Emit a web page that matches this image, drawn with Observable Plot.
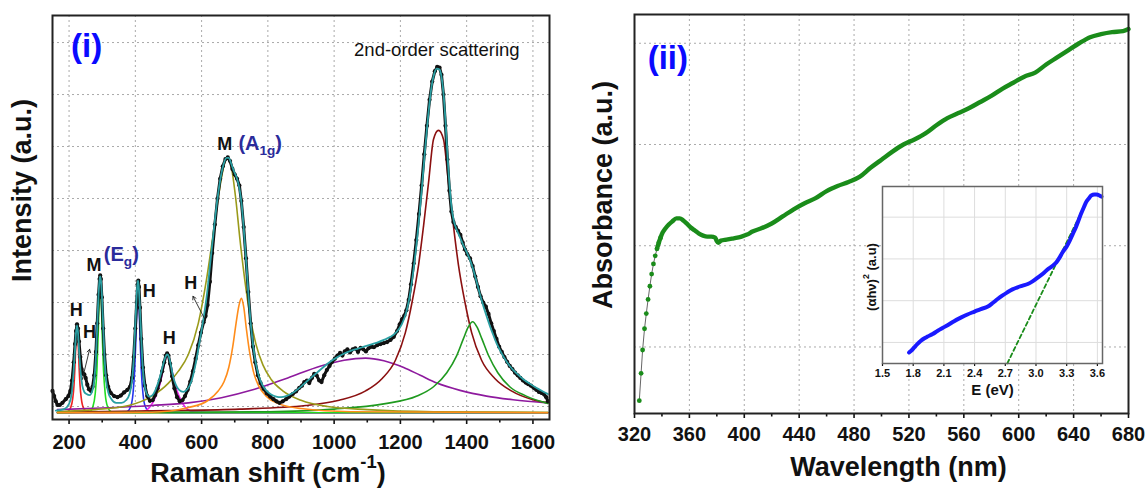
<!DOCTYPE html>
<html><head><meta charset="utf-8">
<script src="https://cdn.jsdelivr.net/npm/d3@7"></script>
<script src="https://cdn.jsdelivr.net/npm/@observablehq/plot@0.6"></script>
<style>
html,body{margin:0;padding:0;background:#fff;}
#wrap{position:relative;width:1146px;height:489px;overflow:hidden;}
#wrap svg{max-width:none;display:block;}
.pane{position:absolute;top:0;}
</style></head><body>
<div id="wrap">
  <div id="left" class="pane" style="left:0;width:575px;height:489px"></div>
  <div id="right" class="pane" style="left:575px;width:571px;height:489px"></div>
  <div id="inset" class="pane" style="left:840px;top:180px;width:270px;height:230px"></div>
</div>
<script>
const FONT = "'Liberation Sans', Arial, sans-serif";

// ---------- Panel (i): Raman ----------
const ramanTicks = [200, 400, 600, 800, 1000, 1200, 1400, 1600];
const ramanMinor = [300, 500, 700, 900, 1100, 1300, 1500];
const ramanGridY = [0, 1, 2, 3, 4, 5, 6, 7];

// observed spectrum [Raman shift, intensity]
const ramanObs = [[150,0.3],[155,0.2],[160,0.1],[165,0.03],[172,0.03],[180,0.07],[190,0.14],[198,0.2],[204,0.3],[209,0.5],[214,0.85],[218,1.2],[221,1.45],[224,1.58],[227,1.5],[230,1.25],[234,0.95],[238,0.72],[242,0.63],[246,0.62],[250,0.55],[255,0.42],[260,0.33],[266,0.3],[271,0.38],[276,0.6],[281,1.05],[285,1.6],[289,2.15],[292,2.45],[294,2.52],[296,2.45],[299,2.1],[303,1.5],[307,1.0],[312,0.6],[318,0.38],[326,0.26],[336,0.2],[346,0.18],[356,0.21],[366,0.27],[376,0.32],[384,0.38],[390,0.55],[395,0.95],[400,1.5],[404,2.0],[407,2.35],[409,2.42],[411,2.3],[414,1.9],[418,1.3],[423,0.75],[429,0.4],[436,0.2],[444,0.11],[452,0.12],[460,0.22],[467,0.35],[474,0.5],[481,0.68],[487,0.85],[492,0.98],[496,1.02],[500,0.98],[505,0.82],[511,0.58],[518,0.35],[526,0.18],[534,0.1],[542,0.12],[550,0.2],[558,0.32],[566,0.48],[574,0.68],[582,0.92],[590,1.18],[598,1.42],[606,1.62],[612,1.74],[618,1.95],[625,2.4],[632,2.95],[640,3.5],[648,4.0],[656,4.38],[664,4.62],[672,4.76],[679,4.79],[686,4.72],[693,4.57],[700,4.46],[707,4.38],[714,4.25],[720,3.95],[727,3.45],[734,2.85],[741,2.2],[748,1.6],[755,1.15],[762,0.85],[770,0.6],[778,0.45],[787,0.34],[797,0.25],[807,0.19],[817,0.14],[826,0.1],[835,0.07],[845,0.1],[855,0.14],[865,0.19],[875,0.24],[885,0.29],[895,0.36],[903,0.4],[910,0.47],[918,0.5],[925,0.45],[933,0.55],[940,0.63],[947,0.6],[955,0.5],[962,0.47],[970,0.6],[978,0.7],[986,0.78],[994,0.86],[1002,0.92],[1010,0.98],[1018,1.03],[1025,0.98],[1032,1.06],[1040,1.1],[1048,1.04],[1056,1.1],[1064,1.12],[1072,1.05],[1080,1.13],[1088,1.1],[1096,1.06],[1104,1.12],[1112,1.15],[1120,1.14],[1130,1.18],[1140,1.2],[1150,1.22],[1160,1.24],[1170,1.28],[1180,1.34],[1190,1.45],[1198,1.58],[1205,1.68],[1212,1.75],[1218,1.85],[1225,2.05],[1232,2.35],[1240,2.75],[1248,3.2],[1256,3.7],[1264,4.25],[1272,4.85],[1280,5.4],[1288,5.9],[1296,6.25],[1304,6.45],[1311,6.53],[1318,6.52],[1324,6.38],[1330,6.0],[1336,5.4],[1342,4.75],[1348,4.15],[1354,3.75],[1360,3.55],[1367,3.45],[1374,3.38],[1381,3.3],[1388,3.15],[1395,3.02],[1402,2.93],[1410,2.85],[1418,2.7],[1426,2.5],[1434,2.3],[1442,2.12],[1450,2.0],[1458,1.92],[1466,1.78],[1474,1.6],[1482,1.45],[1490,1.3],[1498,1.15],[1506,1.05],[1514,0.95],[1522,0.86],[1530,0.78],[1538,0.72],[1546,0.65],[1554,0.6],[1562,0.55],[1570,0.5],[1578,0.46],[1586,0.43],[1594,0.4],[1602,0.36],[1610,0.32],[1618,0.28],[1626,0.26],[1634,0.23],[1640,0.18],[1645,0.1]];

// cumulative fit
const ramanFit = [[160,-0.08],[185,-0.05],[200,0.05],[208,0.25],[213,0.6],[218,1.1],[221,1.42],[224,1.56],[227,1.42],[230,1.1],[235,0.65],[240,0.4],[246,0.28],[253,0.24],[262,0.22],[270,0.3],[276,0.5],[281,0.95],[285,1.55],[289,2.15],[292,2.43],[294,2.5],[296,2.43],[299,2.15],[303,1.55],[307,0.95],[312,0.5],[318,0.28],[328,0.14],[342,0.07],[358,0.07],[372,0.12],[383,0.25],[390,0.5],[395,0.9],[399,1.45],[403,2.0],[406,2.33],[408,2.42],[410,2.33],[413,2.0],[417,1.45],[421,0.9],[426,0.5],[433,0.27],[442,0.19],[452,0.22],[461,0.32],[470,0.48],[479,0.68],[487,0.88],[493,0.98],[497,1.0],[501,0.96],[507,0.8],[514,0.58],[522,0.42],[532,0.32],[545,0.28],[558,0.34],[570,0.5],[582,0.82],[594,1.25],[606,1.7],[616,2.15],[626,2.75],[636,3.35],[646,3.9],[656,4.35],[666,4.65],[675,4.78],[682,4.78],[690,4.66],[698,4.52],[706,4.4],[714,4.2],[721,3.88],[728,3.35],[735,2.75],[742,2.1],[749,1.55],[756,1.15],[764,0.82],[773,0.58],[783,0.42],[795,0.31],[810,0.23],[825,0.19],[840,0.18],[855,0.2],[872,0.25],[890,0.33],[910,0.44],[930,0.55],[950,0.66],[970,0.77],[990,0.87],[1010,0.95],[1030,1.02],[1050,1.07],[1070,1.11],[1090,1.15],[1110,1.19],[1130,1.23],[1150,1.28],[1170,1.34],[1188,1.43],[1204,1.58],[1218,1.82],[1230,2.2],[1242,2.75],[1254,3.45],[1264,4.15],[1274,4.9],[1284,5.6],[1294,6.15],[1302,6.4],[1310,6.5],[1318,6.48],[1325,6.3],[1331,5.95],[1337,5.4],[1343,4.75],[1349,4.2],[1355,3.8],[1362,3.55],[1370,3.4],[1380,3.25],[1390,3.1],[1400,2.97],[1410,2.82],[1420,2.63],[1430,2.4],[1440,2.16],[1450,1.94],[1460,1.74],[1470,1.55],[1480,1.38],[1490,1.22],[1500,1.09],[1515,0.92],[1530,0.78],[1550,0.64],[1570,0.53],[1590,0.44],[1610,0.36],[1630,0.29],[1645,0.24]];

// fitted components
const compH224 = [[165,-0.12],[195,-0.1],[205,-0.02],[211,0.15],[215,0.42],[218,0.8],[221,1.3],[224,1.58],[227,1.3],[230,0.8],[233,0.42],[237,0.15],[243,-0.02],[255,-0.1],[300,-0.12],[1645,-0.12]];
const compEg294 = [[165,-0.12],[262,-0.1],[272,0.0],[279,0.25],[284,0.7],[288,1.4],[291,2.1],[294,2.5],[297,2.1],[300,1.4],[304,0.7],[309,0.25],[316,0.0],[328,-0.1],[400,-0.12],[1645,-0.12]];
const compH408 = [[165,-0.12],[374,-0.1],[386,0.0],[393,0.25],[398,0.7],[402,1.35],[405,2.0],[408,2.4],[411,2.0],[414,1.35],[418,0.7],[423,0.25],[430,0.0],[444,-0.1],[520,-0.12],[1645,-0.12]];
const compH497 = [[165,-0.12],[420,-0.1],[445,0.0],[462,0.2],[474,0.42],[483,0.68],[490,0.88],[497,1.0],[504,0.88],[511,0.68],[520,0.42],[532,0.2],[549,0.0],[574,-0.1],[700,-0.12],[1645,-0.12]];
const compA1g678 = [[165,-0.1],[280,-0.06],[380,0.02],[450,0.2],[500,0.45],[530,0.68],[560,1.0],[590,1.6],[615,2.45],[638,3.45],[656,4.25],[668,4.65],[678,4.8],[690,4.6],[703,4.0],[716,3.2],[730,2.45],[746,1.75],[764,1.2],[785,0.8],[810,0.52],[845,0.3],[900,0.12],[980,0.0],[1100,-0.06],[1300,-0.1],[1645,-0.11]];
const comp720 = [[165,-0.12],[450,-0.11],[560,-0.02],[620,0.12],[650,0.3],[668,0.48],[682,0.75],[694,1.15],[704,1.6],[713,1.95],[720,2.08],[727,1.92],[735,1.5],[744,1.08],[756,0.68],[772,0.4],[795,0.2],[830,0.06],[900,-0.04],[1050,-0.1],[1645,-0.12]];
const comp1095 = [[165,-0.06],[300,-0.03],[450,0.02],[560,0.07],[660,0.17],[760,0.33],[860,0.55],[960,0.78],[1030,0.89],[1095,0.93],[1150,0.88],[1210,0.75],[1260,0.6],[1310,0.45],[1380,0.31],[1460,0.2],[1540,0.13],[1645,0.07]];
const comp1315 = [[165,-0.11],[500,-0.08],[715,-0.05],[915,0.02],[1015,0.12],[1095,0.3],[1145,0.54],[1185,0.89],[1215,1.42],[1235,2.0],[1255,2.73],[1270,3.48],[1285,4.31],[1300,5.14],[1315,5.31],[1330,5.14],[1345,4.31],[1360,3.48],[1375,2.73],[1395,2.0],[1415,1.42],[1445,0.89],[1485,0.54],[1535,0.3],[1600,0.13],[1645,0.07]];
const comp1418 = [[165,-0.12],[800,-0.1],[1000,-0.05],[1150,0.05],[1250,0.2],[1300,0.38],[1340,0.65],[1370,0.98],[1390,1.3],[1405,1.53],[1418,1.63],[1431,1.53],[1446,1.3],[1466,0.98],[1494,0.65],[1530,0.38],[1580,0.2],[1645,0.06]];

const ramanPanelLabel = [{x: 253, y: 6.93, text: "(i)"}];
const ramanNote = [{x: 1310, y: 6.85, text: "2nd-order scattering"}];
const ramanBlackLabels = [
  {x: 221.6, y: 1.85, text: "H"},
  {x: 262, y: 1.42, text: "H"},
  {x: 442, y: 2.21, text: "H"},
  {x: 502, y: 1.31, text: "H"},
  {x: 567, y: 2.38, text: "H"},
  {x: 275, y: 2.71, text: "M"},
  {x: 670, y: 5.05, text: "M"}
];
const ramanModeLabels = [
  {x: 305, y: 2.93, text: "(E_{g})"},
  {x: 711, y: 5.05, text: "(A_{1g})"}
];
const ramanArrows = [
  {x1: 240, y1: 0.52, x2: 262, y2: 1.1},
  {x1: 612, y1: 1.65, x2: 574, y2: 2.12}
];

// ---------- Panel (ii): UV-vis ----------
const uvTicks = [320, 360, 400, 440, 480, 520, 560, 600, 640, 680];
const uvMinor = [340, 380, 420, 460, 500, 540, 580, 620, 660];
const uvGridX = [360, 400, 440, 480, 520, 560, 600, 640];
const uvGridY = [1, 2, 3, 4];
const absorbance = [[323.5,0.47],[324.8,0.74],[325.9,0.97],[327.3,1.18],[328.6,1.33],[329.9,1.47],[331.2,1.6],[332.5,1.72],[333.8,1.82],[335.1,1.9],[336.4,1.97],[337.7,2.03],[339,2.08],[340.5,2.13],[342.5,2.17],[345,2.21],[347.5,2.24],[350.5,2.27],[353,2.27],[355.5,2.25],[358,2.22],[361,2.18],[364,2.15],[367,2.12],[370,2.1],[373,2.09],[376,2.09],[378.8,2.08],[379.8,2.05],[381,2.03],[383,2.05],[387,2.06],[391,2.07],[395,2.08],[398,2.09],[402,2.11],[406,2.14],[412,2.17],[420,2.22],[428,2.29],[436,2.36],[444,2.42],[452,2.47],[460,2.54],[468,2.59],[476,2.63],[484,2.68],[492,2.77],[500,2.85],[508,2.93],[516,3.0],[524,3.05],[532,3.11],[540,3.19],[548,3.26],[556,3.31],[564,3.36],[572,3.42],[580,3.48],[588,3.55],[596,3.61],[604,3.67],[612,3.71],[620,3.79],[628,3.86],[636,3.93],[644,4.0],[652,4.06],[660,4.09],[668,4.11],[676,4.12],[680,4.14]];
const uvPanelLabel = [{x: 344.3, y: 3.85, text: "(ii)"}];

// ---------- Inset: Tauc plot ----------
const taucTicks = [1.5, 1.8, 2.1, 2.4, 2.7, 3.0, 3.3, 3.6];
const taucGridY = [1, 2, 3, 4];
const tauc = [[1.76,0.76],[1.78,0.8],[1.81,0.88],[1.84,0.96],[1.875,1.04],[1.91,1.1],[1.94,1.14],[1.99,1.2],[2.04,1.28],[2.09,1.35],[2.14,1.42],[2.2,1.51],[2.27,1.6],[2.33,1.67],[2.4,1.74],[2.46,1.8],[2.53,1.86],[2.58,1.95],[2.625,2.04],[2.67,2.12],[2.72,2.2],[2.77,2.27],[2.82,2.32],[2.87,2.36],[2.92,2.4],[2.97,2.47],[3.02,2.56],[3.07,2.65],[3.11,2.74],[3.16,2.83],[3.2,2.92],[3.23,3.03],[3.26,3.16],[3.3,3.3],[3.33,3.44],[3.36,3.6],[3.39,3.76],[3.42,3.95],[3.44,4.08],[3.47,4.25],[3.49,4.36],[3.52,4.46],[3.54,4.52],[3.57,4.54],[3.59,4.54],[3.62,4.52],[3.64,4.49]];
const taucTangent = [[2.72,0.5],[3.51,4.45]];

const C = {
  red: "#ee2222", lime: "#22dd22", blue: "#2433ee", magenta: "#ee22ee",
  olive: "#9a9a1a", orange: "#ff8c1a", purple: "#8e1a9e", darkred: "#8b1010",
  green: "#1f9a1f", fit: "#2a9fa3", obs: "#111111", panel: "#0a0aff",
  mode: "#2b2b9b", uv: "#1a8c1a", tauc: "#1a1aff"
};
const X = d => d[0], Y = d => d[1];
const grid = {stroke: "#aaa", strokeOpacity: 1, strokeDasharray: "2,3", strokeWidth: 1};

function richText(svg) {
  d3.select(svg).selectAll("text").each(function () {
    const s = this.textContent;
    if (!/[_^]\{/.test(s)) return;
    const re = /([_^])\{([^}]*)\}/g; const parts = []; let last = 0, m;
    while ((m = re.exec(s))) {
      if (m.index > last) parts.push({t: s.slice(last, m.index)});
      parts.push({t: m[2], k: m[1]}); last = re.lastIndex;
    }
    if (last < s.length) parts.push({t: s.slice(last)});
    const sel = d3.select(this); sel.text(null);
    for (const p of parts) {
      const ts = sel.append("tspan").text(p.t);
      if (p.k) ts.attr("font-size", "68%").attr("baseline-shift", p.k === "_" ? "-0.35em" : "0.75em");
    }
  });
  return svg;
}

const compLine = (data, color) => Plot.line(data, {x: X, y: Y, stroke: color, strokeWidth: 1.6, curve: "monotone-x"});

const left = Plot.plot({
  width: 575, height: 489,
  marginLeft: 52, marginRight: 26, marginTop: 15, marginBottom: 70,
  x: {domain: [150, 1650], label: null},
  y: {domain: [-0.25, 7.52], axis: null, label: null},
  style: {fontFamily: FONT, background: "transparent", color: "#111", maxWidth: "none"},
  marks: [
    Plot.gridX(ramanTicks, grid),
    Plot.gridY(ramanGridY, grid),
    compLine(compH224, C.red),
    compLine(compH408, C.blue),
    compLine(compH497, C.magenta),
    compLine(compEg294, C.lime),
    compLine(comp1095, C.purple),
    compLine(comp1315, C.darkred),
    compLine(comp1418, C.green),
    compLine(compA1g678, C.olive),
    compLine(comp720, C.orange),
    Plot.line(ramanObs, {x: X, y: Y, stroke: C.obs, strokeWidth: 3}),
    Plot.dot(ramanObs, {x: X, y: Y, r: 2.1, fill: C.obs, stroke: "none"}),
    Plot.line(ramanFit, {x: X, y: Y, stroke: C.fit, strokeWidth: 1.8, curve: "monotone-x"}),
    Plot.arrow(ramanArrows, {x1: "x1", y1: "y1", x2: "x2", y2: "y2", stroke: "#222", strokeWidth: 0.9, headLength: 6, bend: 0}),
    Plot.text(ramanPanelLabel, {x: "x", y: "y", text: "text", fontSize: 33, fontWeight: "bold", fill: C.panel}),
    Plot.text(ramanNote, {x: "x", y: "y", text: "text", fontSize: 18.5, fill: "#111"}),
    Plot.text(ramanBlackLabels, {x: "x", y: "y", text: "text", fontSize: 18, fontWeight: "bold", fill: "#111"}),
    Plot.text(ramanModeLabels, {x: "x", y: "y", text: "text", fontSize: 20, fontWeight: "bold", fill: C.mode, textAnchor: "start"}),
    Plot.axisX(ramanTicks, {tickSize: 5, tickPadding: 10, fontSize: 20, fontWeight: "bold", strokeWidth: 1.6, label: null, tickFormat: d => String(d)}),
    Plot.axisX(ramanMinor, {tickSize: 3.5, strokeWidth: 1.6, label: null, tickFormat: () => ""}),
    Plot.frame({stroke: "#222", strokeWidth: 2}),
    Plot.text(["Raman shift (cm^{-1})"], {frameAnchor: "bottom", dx: -33, dy: 62, fontSize: 27, fontWeight: "bold", fill: "#111", textAnchor: "middle"}),
    Plot.text(["Intensity (a.u.)"], {frameAnchor: "left", dx: -30, dy: -27, rotate: -90, fontSize: 27, fontWeight: "bold", fill: "#111", textAnchor: "middle"})
  ]
});
document.getElementById("left").append(richText(left));

const right = Plot.plot({
  width: 571, height: 489,
  marginLeft: 59, marginRight: 18, marginTop: 14, marginBottom: 76,
  x: {domain: [320, 680], label: null},
  y: {domain: [0.343, 4.284], axis: null, label: null},
  style: {fontFamily: FONT, background: "transparent", color: "#111", maxWidth: "none"},
  marks: [
    Plot.gridX(uvGridX, grid),
    Plot.gridY(uvGridY, grid),
    Plot.line(absorbance, {x: X, y: Y, stroke: "#555", strokeWidth: 0.9}),
    Plot.line(absorbance.filter(d => d[0] >= 336), {x: X, y: Y, stroke: C.uv, strokeWidth: 4.4, curve: "monotone-x"}),
    Plot.dot(absorbance.filter(d => d[0] < 340), {x: X, y: Y, r: 2.4, fill: C.uv, stroke: "none"}),
    Plot.text(uvPanelLabel, {x: "x", y: "y", text: "text", fontSize: 33, fontWeight: "bold", fill: C.panel}),
    Plot.axisX(uvTicks, {tickSize: 5, tickPadding: 8, fontSize: 20, fontWeight: "bold", strokeWidth: 1.6, label: null, tickFormat: d => String(d)}),
    Plot.axisX(uvMinor, {tickSize: 3.5, strokeWidth: 1.6, label: null, tickFormat: () => ""}),
    Plot.frame({stroke: "#222", strokeWidth: 2}),
    Plot.text(["Wavelength (nm)"], {frameAnchor: "bottom", dx: 17, dy: 62, fontSize: 27, fontWeight: "bold", fill: "#111", textAnchor: "middle"}),
    Plot.text(["Absorbance (a.u.)"], {frameAnchor: "left", dx: -31, dy: -19, rotate: -90, fontSize: 27, fontWeight: "bold", fill: "#111", textAnchor: "middle"})
  ]
});
document.getElementById("right").append(richText(right));

const inset = Plot.plot({
  width: 270, height: 230,
  marginLeft: 42, marginRight: 8, marginTop: 6, marginBottom: 47,
  x: {domain: [1.5, 3.65], label: null},
  y: {domain: [0.496, 4.734], axis: null, label: null},
  style: {fontFamily: FONT, background: "transparent", color: "#111", maxWidth: "none"},
  marks: [
    Plot.frame({fill: "white", stroke: "none"}),
    Plot.gridX(taucTicks.slice(1), {stroke: "#ddd", strokeOpacity: 1, strokeWidth: 1}),
    Plot.gridY(taucGridY, {stroke: "#ddd", strokeOpacity: 1, strokeWidth: 1}),
    Plot.line(taucTangent, {x: X, y: Y, stroke: C.uv, strokeWidth: 1.8, strokeDasharray: "4,3"}),
    Plot.line(tauc, {x: X, y: Y, stroke: C.tauc, strokeWidth: 4, curve: "monotone-x"}),
    Plot.axisX(taucTicks, {tickSize: 3, tickPadding: 3, fontSize: 11, fontWeight: "bold", strokeWidth: 1.2, label: null, tickFormat: d3.format(".1f")}),
    Plot.frame({stroke: "#666", strokeWidth: 1.5}),
    Plot.text(["E (eV)"], {frameAnchor: "bottom", dy: 31, fontSize: 15, fontWeight: "bold", fill: "#111", textAnchor: "middle"}),
    Plot.text(["(αhν)^{2} (a.u)"], {frameAnchor: "left", dx: -11, dy: 2, rotate: -90, fontSize: 13, fontWeight: "bold", fill: "#111", textAnchor: "middle"})
  ]
});
document.getElementById("inset").append(richText(inset));
</script>
</body></html>
